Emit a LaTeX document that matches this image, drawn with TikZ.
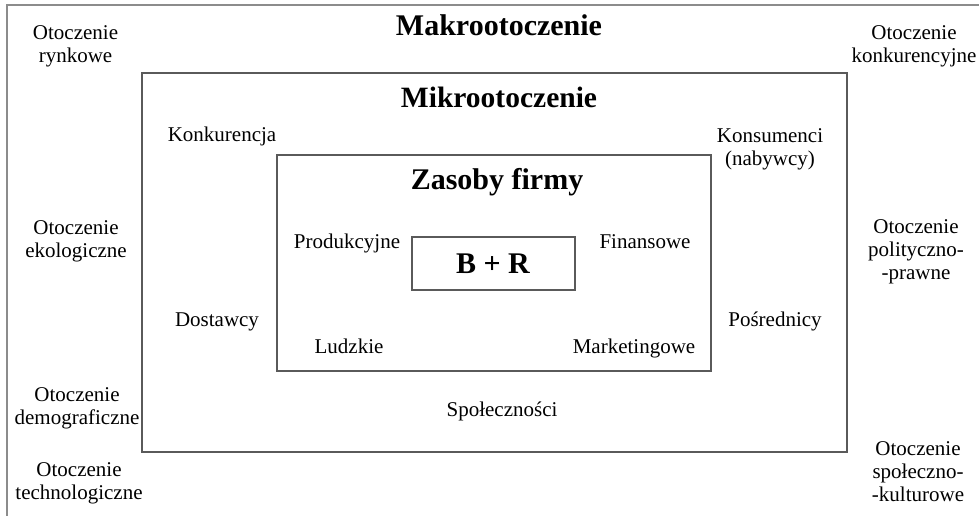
\documentclass[tikz,border=0pt]{standalone}
\usepackage{fontspec}
\setmainfont{Liberation Serif}
\definecolor{framegray}{HTML}{8C8C8C}
\definecolor{boxgray}{HTML}{5A5A5A}
\tikzset{
  lbl/.style={inner sep=0pt, align=center, font=\fontsize{21}{23}\selectfont},
  title/.style={inner sep=0pt, font=\fontsize{29}{33}\selectfont\bfseries},
  zone/.style={draw=boxgray, line width=1.2pt, inner sep=0pt},
}
\begin{document}
\begin{tikzpicture}[x=1pt, y=-1pt]
  \useasboundingbox (0,0) rectangle (979,516);
  \fill[white] (0,0) rectangle (979,516);

  % macro-environment frame (open towards the right and bottom)
  \draw[framegray, line width=1.2pt] (979,5) -- (7,5) -- (7,516);

  % nested boxes
  \node[zone, minimum width=705pt, minimum height=379pt] (mikro) at (494.5,262.5) {};
  \node[zone, minimum width=434pt, minimum height=216pt] (zasoby) at (494,263) {};
  \node[zone, minimum width=163pt, minimum height=53pt] (br) at (493.5,263.5) {};
  \node[title, font=\fontsize{30}{33}\selectfont\bfseries, anchor=base] (brtxt) at (493,273) {B + R};

  % titles
  \node[title, font=\fontsize{30}{33}\selectfont\bfseries, anchor=base] (makro) at (499,36) {Makrootoczenie};
  \node[title, font=\fontsize{29.5}{33}\selectfont\bfseries, anchor=base] (mikrot) at (499,107) {Mikrootoczenie};
  \node[title, font=\fontsize{30}{33}\selectfont\bfseries, anchor=base] (zasobyt) at (497,189) {Zasoby firmy};

  % macro-environment factors
  \node[lbl] (rynk) at (75.5,46.5) {Otoczenie\\rynkowe};
  \node[lbl] (konk) at (914,46.5) {Otoczenie\\konkurencyjne};
  \node[lbl] (ekol) at (76,241.5) {Otoczenie\\ekologiczne};
  \node[lbl] (demo) at (77,408) {Otoczenie\\demograficzne};
  \node[lbl] (tech) at (79,483) {Otoczenie\\technologiczne};
  \node[lbl] (poli) at (916,252) {Otoczenie\\polityczno-\\-prawne};
  \node[lbl] (spol) at (918,472) {Otoczenie\\społeczno-\\-kulturowe};

  % micro-environment factors
  \node[lbl, anchor=base] (konkur) at (222,142) {Konkurencja};
  \node[lbl] (kons) at (770,149.5) {Konsumenci\\(nabywcy)};
  \node[lbl, anchor=base] (dost) at (217,326) {Dostawcy};
  \node[lbl, anchor=base] (posr) at (775,326) {Pośrednicy};
  \node[lbl, anchor=base] (spolecz) at (502,416) {Społeczności};

  % company resources
  \node[lbl, anchor=base] (prod) at (347,248) {Produkcyjne};
  \node[lbl, anchor=base] (fin) at (645,248) {Finansowe};
  \node[lbl, anchor=base] (ludz) at (349,353) {Ludzkie};
  \node[lbl, anchor=base] (mark) at (634,353) {Marketingowe};
\end{tikzpicture}
\end{document}
